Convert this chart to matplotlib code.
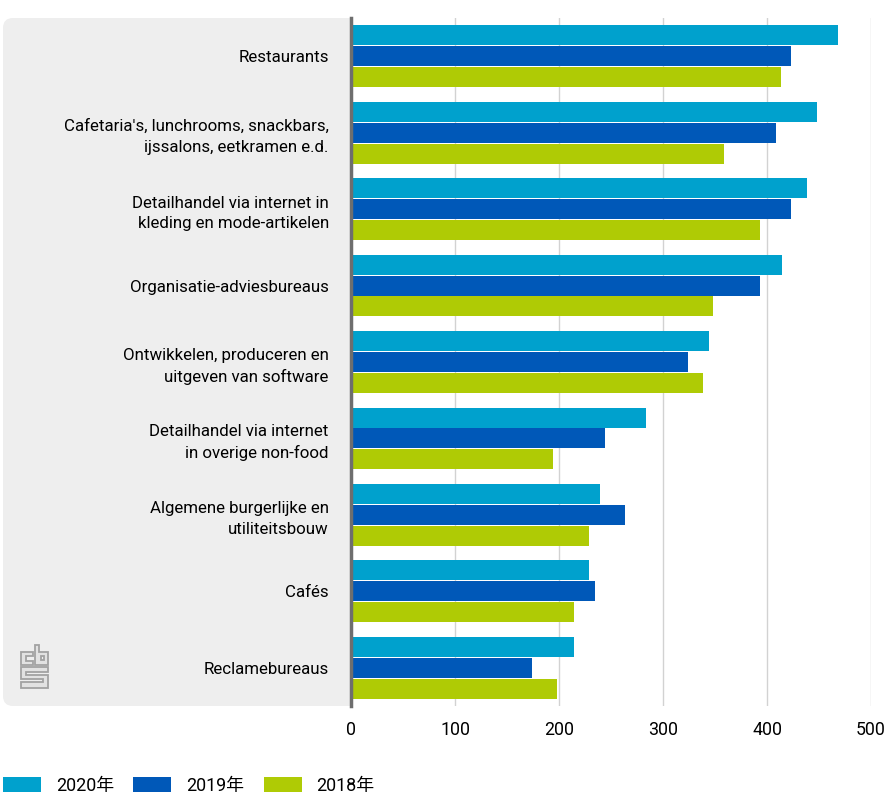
import numpy as np
import matplotlib
matplotlib.use("Agg")
import matplotlib.pyplot as plt
from matplotlib.patches import PathPatch, Polygon
from matplotlib.path import Path
from matplotlib.transforms import IdentityTransform

categories = [
    "Restaurants",
    "Cafetaria's, lunchrooms, snackbars,\nijssalons, eetkramen e.d.",
    "Detailhandel via internet in\nkleding en mode-artikelen",
    "Organisatie-adviesbureaus",
    "Ontwikkelen, produceren en\nuitgeven van software",
    "Detailhandel via internet\nin overige non-food",
    "Algemene burgerlijke en\nutiliteitsbouw",
    "Cafés",
    "Reclamebureaus",
]
v2020 = [468, 448, 438, 414, 344, 284, 239, 229, 214]
v2019 = [423, 409, 423, 393, 324, 244, 263, 235, 174]
v2018 = [413, 359, 393, 348, 338, 194, 229, 214, 198]
xticks = [0, 100, 200, 300, 400, 500]

W, H = 896, 802
plt.rcParams["font.family"] = ["Roboto", "Noto Sans CJK SC", "DejaVu Sans"]
plt.rcParams["font.size"] = 12.2

fig = plt.figure(figsize=(W / 100, H / 100), dpi=100)
ax = fig.add_axes([351 / W, 1 - 706 / H, 520 / W, 688 / H])

# grey panel behind the labels, only left corners rounded
x0, x1, y0, y1, r = 3, 351, H - 706, H - 18, 10
panel = Path(
    [(x1, y0), (x1, y1), (x0 + r, y1), (x0, y1), (x0, y1 - r), (x0, y0 + r), (x0, y0), (x0 + r, y0), (x1, y0)],
    [Path.MOVETO, Path.LINETO, Path.LINETO, Path.CURVE3, Path.CURVE3, Path.LINETO, Path.CURVE3, Path.CURVE3, Path.LINETO],
)
fig.add_artist(PathPatch(panel, fc="#eeeeee", ec="none", transform=IdentityTransform(), zorder=0))

y = np.arange(len(categories))
h = 0.262
off = 0.273
ax.barh(y - off, v2020, h, color="#00a1cd", label="2020年", zorder=3)
ax.barh(y, v2019, h, color="#0058b8", label="2019年", zorder=3)
ax.barh(y + off, v2018, h, color="#afcb05", label="2018年", zorder=3)

ax.set_xlim(0, 500)
ax.set_ylim(8.5, -0.5)
ax.patch.set_alpha(0)
ax.set_xticks(xticks)
ax.set_yticks(y)
ax.set_yticklabels(categories, linespacing=1.45, color="black")
ax.tick_params(axis="y", length=0, pad=16)
ax.tick_params(axis="x", length=0, pad=11, labelsize=12.8)
ax.grid(axis="x", color="#d2d2d2", lw=1, zorder=1)
for s in ["top", "right", "bottom"]:
    ax.spines[s].set_visible(False)
ax.spines["left"].set_color("#6e6e6e")
ax.spines["left"].set_linewidth(2.5)
ax.spines["left"].set_zorder(5)

# cbs logo, pixel coordinates from the top left
logo = [
    [(33, 652), (21, 652), (21, 665), (33, 665), (33, 661), (26, 661), (26, 656), (33, 656)],
    [(35, 645), (39, 645), (39, 652), (48, 652), (48, 665), (35, 665)],
    [(41, 656), (44, 656), (44, 660), (41, 660)],
    [(48, 667), (21, 667), (21, 679), (43, 679), (43, 682), (21, 682), (21, 688), (48, 688),
     (48, 675), (26, 675), (26, 672), (48, 672)],
]
for i, pts in enumerate(logo):
    pts = np.array(pts, float)
    pts[:, 1] = H - pts[:, 1]
    fig.add_artist(Polygon(pts, closed=True, fc="#e2e2e2" if i != 2 else "#eeeeee", ec="#a2a2a2", lw=1.3,
                           transform=IdentityTransform(), zorder=2))

fig.legend(
    loc="lower left",
    bbox_to_anchor=(3 / W, 1 - 795 / H),
    ncol=3,
    frameon=False,
    borderpad=0,
    borderaxespad=0,
    handlelength=2.12,
    handleheight=0.9,
    handletextpad=0.84,
    columnspacing=1.07,
    fontsize=12.9,
)

fig.savefig("out.png", dpi=100)
